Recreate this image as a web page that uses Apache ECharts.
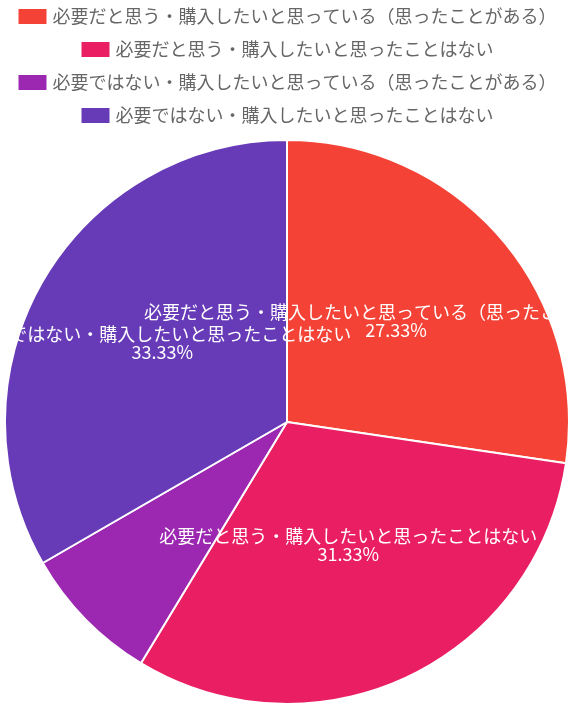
<!DOCTYPE html>
<html>
<head>
    <meta charset="utf-8">
    <script src="https://cdn.jsdelivr.net/npm/echarts@6/dist/echarts.min.js" type="text/javascript"></script>
    <style>
        html, body { margin: 0; padding: 0; background: #fff; }
    </style>
</head>
<body>
    <div id="echar" style="width:573px;height:708px"></div>
    <script type="text/javascript">
    // 回答の区分
    var categories = [
        '必要だと思う・購入したいと思っている（思ったことがある）',
        '必要だと思う・購入したいと思ったことはない',
        '必要ではない・購入したいと思っている（思ったことがある）',
        '必要ではない・購入したいと思ったことはない'
    ];
    // 回答数
    var counts = [41, 47, 12, 50];
    var colors = ['#F44336', '#E91E63', '#9C27B0', '#673AB7'];
    // 表示しないラベル
    var hiddenLabels = [false, false, true, false];

    var total = counts.reduce(function(a, b) { return a + b; }, 0);

    var myChart = echarts.init(document.getElementById('echar'));

    var fontFamily = '"Noto Sans CJK JP", "Noto Sans", sans-serif';

    // 凡例は1行ずつ中央寄せ
    var legends = categories.map(function(name, i) {
        return {
            data: [name],
            left: 'center',
            top: 2 + i * 33,
            itemWidth: 30,
            itemHeight: 17,
            itemGap: 8,
            icon: 'rect',
            selectedMode: false,
            textStyle: {
                color: '#666',
                fontSize: 18,
                fontFamily: fontFamily
            }
        };
    });

    var pieData = categories.map(function(name, i) {
        var item = { name: name, value: counts[i] };
        if (hiddenLabels[i]) {
            item.label = { show: false };
        }
        return item;
    });

    var option = {
        color: colors,
        animation: false,
        legend: legends,
        series: [{
            type: 'pie',
            center: [287, 422],
            radius: 282,
            startAngle: 90,
            clockwise: true,
            avoidLabelOverlap: false,
            labelLayout: { hideOverlap: false },
            itemStyle: {
                borderColor: '#fff',
                borderWidth: 2
            },
            label: {
                show: true,
                position: 'inside',
                color: '#fff',
                fontSize: 18,
                lineHeight: 18,
                offset: [0, -7],
                fontFamily: fontFamily,
                formatter: function(p) {
                    return p.name + '\n' + (p.value / total * 100).toFixed(2) + '%';
                }
            },
            labelLine: { show: false },
            data: pieData
        }]
    };
    myChart.setOption(option);
    </script>
</body>
</html>
